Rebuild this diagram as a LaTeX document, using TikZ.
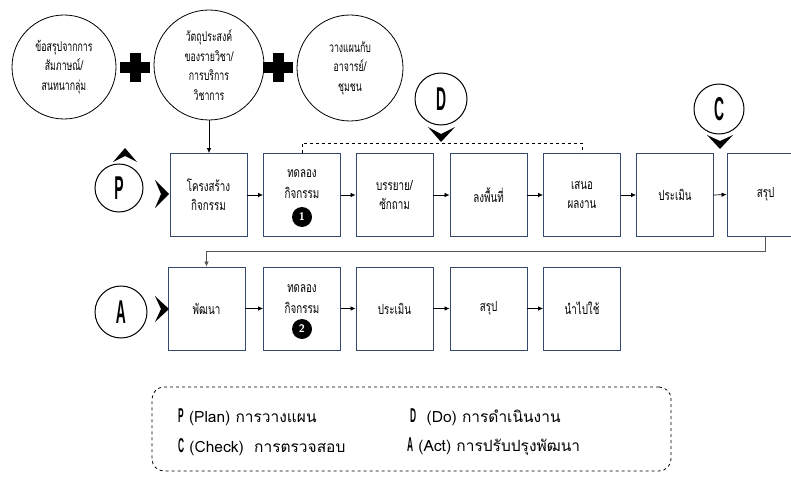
\documentclass[tikz,border=0pt]{standalone}
\usepackage{fontspec}
\usetikzlibrary{arrows.meta}
\newfontfamily\thaifont[Script=Thai]{Loma}
\newfontfamily\thaicond[Script=Thai,FakeStretch=0.7]{Loma}
\newfontfamily\thaicirc[Script=Thai,FakeStretch=0.65]{Loma}
\newfontfamily\letterfont[FakeStretch=0.42]{Liberation Sans}
\definecolor{boxblue}{HTML}{34496B}
\definecolor{retgray}{HTML}{555555}
\tikzset{
  stepbox/.style={draw=boxblue,line width=0.8pt,minimum width=77pt,minimum height=83pt,inner sep=0pt,align=center,font=\thaicond\fontsize{14}{19}\selectfont},
  conn/.style={-{Latex[length=5pt,width=4.5pt]},line width=0.7pt},
  bigcirc/.style={circle,draw,line width=0.8pt,inner sep=0pt,align=center,font=\thaicirc\fontsize{13.5}{19.5}\selectfont},
  lettercirc/.style={circle,draw,line width=1pt,inner sep=0pt,minimum size=50pt,font=\letterfont\bfseries\fontsize{33}{33}\selectfont},
  badge/.style={circle,fill=black,text=white,inner sep=0pt,minimum size=20pt,font=\sffamily\bfseries\fontsize{11}{11}\selectfont},
  legtext/.style={anchor=west,inner sep=0pt,font=\thaifont\fontsize{15.5}{17}\selectfont},
}
\newcommand{\legletter}[1]{{\letterfont\bfseries\fontsize{20}{20}\selectfont #1}}
\begin{document}
\begin{tikzpicture}[x=1pt,y=-1pt]
\useasboundingbox (0,0) rectangle (791,476);
% top circles
\node[bigcirc,minimum size=104pt] (c1) at (64,67) {ข้อสรุปจากการ\\สัมภาษณ์/\\สนทนากลุ่ม};
\node[bigcirc,minimum size=110pt] (c2) at (209,65) {วัตถุประสงค์\\ของรายวิชา/\\การบริการ\\วิชาการ};
\node[bigcirc,minimum size=106pt] (c3) at (350,68) {วางแผนกับ\\อาจารย์/\\ชุมชน};
% plus signs
\fill (120,62) rectangle (150,73);
\fill (129.5,53) rectangle (140.5,82);
\fill (263,62) rectangle (293,73);
\fill (272.5,53) rectangle (283.5,82);
% row 1
\node[stepbox] (b1) at (208.5,195) {โครงสร้าง\\กิจกรรม};
\node[stepbox] (b2) at (302,195) {};
\node[inner sep=0pt,align=center,font=\thaicond\fontsize{14}{21}\selectfont] (b2t) at (302,184) {ทดลอง\\กิจกรรม};
\node[badge] (n1) at (302,217) {1};
\node[stepbox] (b3) at (394.5,195) {บรรยาย/\\ซักถาม};
\node[stepbox] (b4) at (488.5,195) {ลงพื้นที่};
\node[stepbox] (b5) at (582,195) {เสนอ\\ผลงาน};
\node[stepbox] (b6) at (675,195) {ประเมิน};
\node[stepbox] (b7) at (765.5,194.5) {สรุป};
\foreach \a/\b in {b1/b2,b2/b3,b3/b4,b4/b5,b5/b6,b6/b7}
  \draw[conn] (\a.east) -- (\b.west);
\draw[conn] (c2.south) -- (c2.south |- b1.north);
% row 2
\node[stepbox] (a1) at (206.5,308.5) {พัฒนา};
\node[stepbox] (a2) at (302,308.5) {};
\node[inner sep=0pt,align=center,font=\thaicond\fontsize{14}{21}\selectfont] (a2t) at (302,299) {ทดลอง\\กิจกรรม};
\node[badge] (n2) at (302,329) {2};
\node[stepbox] (a3) at (394.5,308.5) {ประเมิน};
\node[stepbox] (a4) at (488.5,308.5) {สรุป};
\node[stepbox] (a5) at (582,308.5) {นำไปใช้};
\foreach \a/\b in {a1/a2,a2/a3,a3/a4,a4/a5}
  \draw[conn] (\a.east) -- (\b.west);
% return connector
\draw[conn,draw=retgray] (b7.south) -- ++(0,15) -| (a1.north);
% dashed D bracket
\draw[dashed,line width=0.7pt] (b2.north) -- ++(0,-10) -| (b5.north);
% PDCA letters
\node[lettercirc,minimum size=48pt] (P) at (119,188) {P};
\node[lettercirc,minimum size=52pt] (D) at (441,99) {D};
\node[lettercirc,minimum size=50pt] (C) at (719,109) {C};
\node[lettercirc,minimum size=52pt] (A) at (121,312) {A};
% chevrons
\fill (125,148) -- (137,162) -- (125,156) -- (113,162) -- cycle;
\fill (169,194) -- (155,208) -- (161,194) -- (155,180) -- cycle;
\fill (169,309) -- (155,322) -- (161,309) -- (155,296) -- cycle;
\fill (441,142) -- (455,127) -- (441,134) -- (428,127) -- cycle;
\fill (720,149) -- (733,135) -- (720,141) -- (707,135) -- cycle;
% legend
\node[draw,dashed,line width=0.8pt,rounded corners=12pt,minimum width=519pt,minimum height=84pt] (leg) at (411.5,429) {};
\node[legtext] (lp) at (178,417) {\legletter{P} (Plan) การวางแผน};
\node[legtext] (lc) at (178,447) {\legletter{C} (Check) \ การตรวจสอบ};
\node[legtext] (ld) at (410,417) {\legletter{D} \ (Do) การดำเนินงาน};
\node[legtext] (la) at (407,447) {\legletter{A} (Act) การปรับปรุงพัฒนา};
\end{tikzpicture}
\end{document}
